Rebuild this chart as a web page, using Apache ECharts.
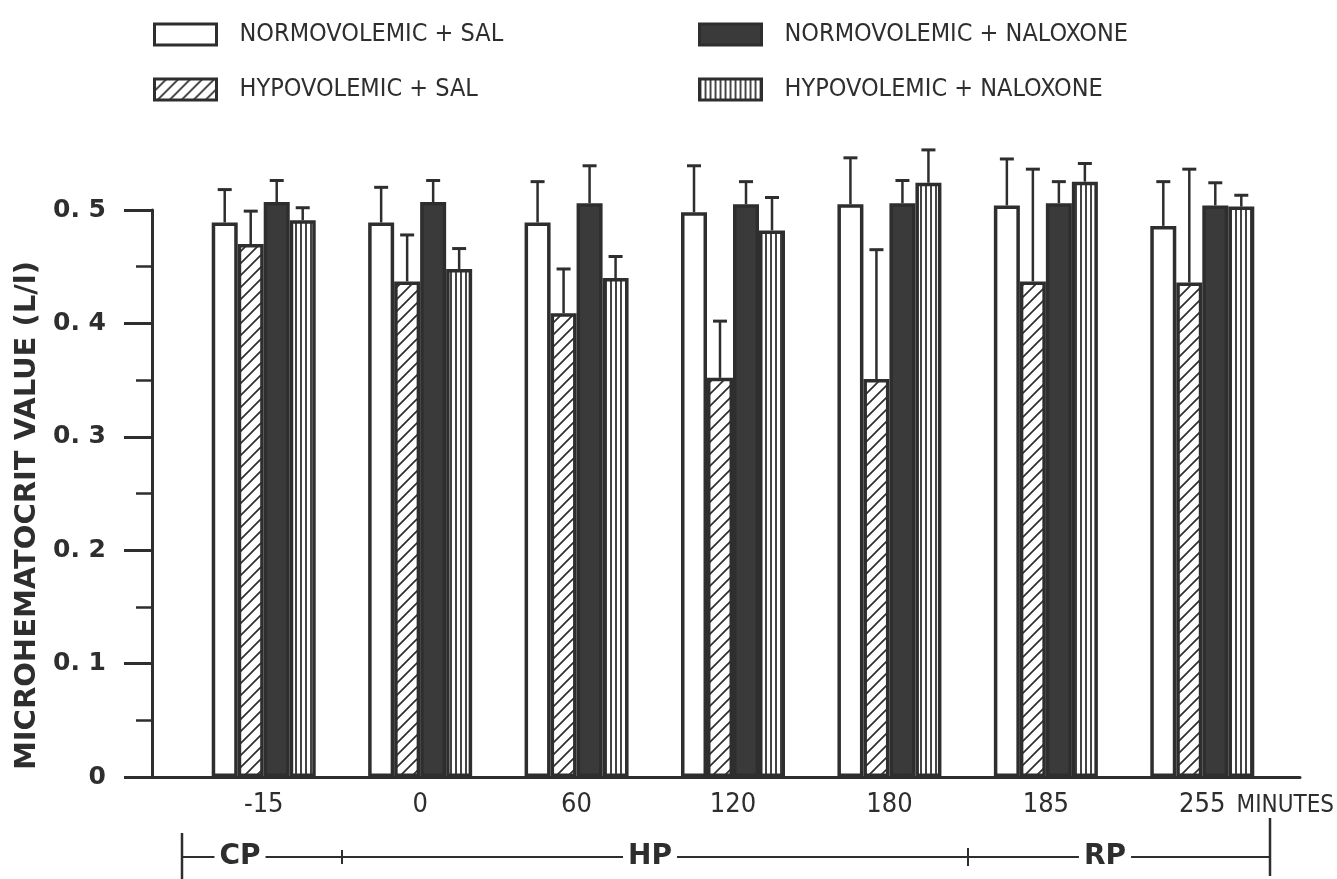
<!DOCTYPE html>
<html>
<head>
<meta charset="utf-8">
<title>Microhematocrit</title>
<script src="https://cdn.jsdelivr.net/npm/echarts@6/dist/echarts.min.js"></script>
<style>
  html, body { margin: 0; padding: 0; background: #fff; }
  #chart { width: 1337px; height: 879px; }
</style>
</head>
<body>
<div id="chart"></div>
<script>
// time points (minutes)
var categories = ['-15', '0', '60', '120', '180', '185', '255'];

// means
var normoSal      = [0.489, 0.489, 0.489, 0.498, 0.505, 0.504, 0.486];
var hypoSal       = [0.470, 0.437, 0.409, 0.352, 0.351, 0.437, 0.436];
var normoNaloxone = [0.507, 0.507, 0.506, 0.505, 0.506, 0.506, 0.504];
var hypoNaloxone  = [0.491, 0.448, 0.440, 0.482, 0.524, 0.525, 0.503];

// upper error (SD) for each bar
var normoSalErr      = [0.029, 0.031, 0.036, 0.041, 0.041, 0.041, 0.039];
var hypoSalErr       = [0.029, 0.041, 0.039, 0.050, 0.114, 0.099, 0.100];
var normoNaloxoneErr = [0.019, 0.019, 0.033, 0.020, 0.020, 0.019, 0.020];
var hypoNaloxoneErr  = [0.011, 0.018, 0.019, 0.029, 0.029, 0.016, 0.010];

var seriesNames = ['NORMOVOLEMIC + SAL', 'HYPOVOLEMIC + SAL', 'NORMOVOLEMIC + NALOXONE', 'HYPOVOLEMIC + NALOXONE'];

var INK = '#2e2e2e';
var BAR_W = 26;
var FONT = '"DejaVu Sans Condensed", "Liberation Sans Narrow", "DejaVu Sans", sans-serif';

// pattern tiles
function hatchTile() {
	var c = document.createElement('canvas');
	c.width = 12; c.height = 12;
	var g = c.getContext('2d');
	g.fillStyle = '#fff';
	g.fillRect(0, 0, 12, 12);
	g.strokeStyle = INK;
	g.lineWidth = 1.7;
	g.beginPath();
	g.moveTo(-1, 13); g.lineTo(13, -1);
	g.moveTo(-1, 1); g.lineTo(1, -1);
	g.moveTo(11, 13); g.lineTo(13, 11);
	g.stroke();
	return c;
}
function stripeTile() {
	var c = document.createElement('canvas');
	c.width = 5; c.height = 4;
	var g = c.getContext('2d');
	g.fillStyle = '#fff';
	g.fillRect(0, 0, 5, 4);
	g.fillStyle = '#444';
	g.fillRect(0, 0, 2, 4);
	return c;
}

var fills = [
	'#ffffff',
	{ image: hatchTile(), repeat: 'repeat' },
	'#3a3a3a',
	{ image: stripeTile(), repeat: 'repeat' }
];
var means = [normoSal, hypoSal, normoNaloxone, hypoNaloxone];
var errs = [normoSalErr, hypoSalErr, normoNaloxoneErr, hypoNaloxoneErr];

// whisker offset of each bar from the group centre
var offsets = [-1.5 * BAR_W, -0.5 * BAR_W, 0.5 * BAR_W, 1.5 * BAR_W];

function errRenderer(k) {
	return function(params, api) {
		var i = api.value(0), m = api.value(1), e = api.value(2);
		var base = api.coord([i, m]);
		var top = api.coord([i, m + e]);
		var cx = base[0] + offsets[k];
		return {
			type: 'group',
			children: [{
				type: 'line',
				shape: { x1: cx, y1: base[1], x2: cx, y2: top[1] },
				style: { stroke: INK, lineWidth: 2.5 }
			}, {
				type: 'line',
				shape: { x1: cx - 7, y1: top[1], x2: cx + 7, y2: top[1] },
				style: { stroke: INK, lineWidth: 3 }
			}]
		};
	};
}

var series = [];
for (var k = 0; k < 4; k++) {
	series.push({
		name: seriesNames[k],
		type: 'bar',
		xAxisIndex: 0,
		yAxisIndex: 0,
		data: means[k],
		barWidth: BAR_W,
		barGap: '0%',
		clip: false,
		itemStyle: { color: fills[k], borderColor: INK, borderWidth: 3.5 }
	});
}
for (var k = 0; k < 4; k++) {
	var errData = [];
	for (var i = 0; i < categories.length; i++) {
		errData.push([i, means[k][i], errs[k][i]]);
	}
	series.push({
		type: 'custom',
		xAxisIndex: 0,
		yAxisIndex: 0,
		clip: false,
		z: 3,
		renderItem: errRenderer(k),
		data: errData
	});
}

var legendBase = {
	orient: 'horizontal',
	padding: 0,
	icon: 'rect',
	itemWidth: 62,
	itemHeight: 21,
	selectedMode: false,
	itemStyle: { borderColor: INK, borderWidth: 3 },
	textStyle: { fontFamily: FONT, fontSize: 25, color: INK, padding: [0, 0, 0, 18] }
};
function legendAt(name, left, top) {
	return Object.assign({}, legendBase, { data: [name], left: left, top: top });
}

var option = {
	backgroundColor: '#fff',
	animation: false,
	legend: [
		legendAt(seriesNames[0], 153, 22),
		legendAt(seriesNames[1], 153, 77),
		legendAt(seriesNames[2], 698, 22),
		legendAt(seriesNames[3], 698, 77)
	],
	grid: [
		{ left: 185.5, right: 52.5, top: 210, bottom: 102 },
		{ left: 128, right: 37, top: 210, bottom: 102 }
	],
	xAxis: [{
		type: 'category',
		gridIndex: 0,
		data: categories,
		axisLine: { show: false },
		axisTick: { show: false },
		axisLabel: { fontFamily: FONT, fontSize: 27, color: INK, margin: 14 },
		name: 'MINUTES',
		nameLocation: 'end',
		nameGap: -44,
		nameTextStyle: { fontFamily: FONT, fontSize: 24, color: INK, align: 'left', verticalAlign: 'top', lineHeight: 58 }
	}, {
		type: 'value',
		gridIndex: 1,
		min: 0,
		max: 1,
		axisLine: { show: true, lineStyle: { color: INK, width: 3 } },
		axisTick: { show: false },
		axisLabel: { show: false },
		splitLine: { show: false }
	}],
	yAxis: [{
		type: 'value',
		gridIndex: 0,
		min: 0,
		max: 0.5,
		interval: 0.1,
		offset: 33.5,
		axisLine: { show: true, lineStyle: { color: INK, width: 3 } },
		axisTick: { show: true, length: 28, lineStyle: { color: INK, width: 3 } },
		minorTick: { show: true, splitNumber: 2, length: 16, lineStyle: { color: INK, width: 2.5 } },
		splitLine: { show: false },
		axisLabel: {
			fontFamily: '"DejaVu Sans", sans-serif',
			fontWeight: 'bold',
			fontSize: 25,
			color: INK,
			margin: 46,
			formatter: function(v) { return v === 0 ? '0' : '0. ' + Math.round(v * 10); }
		},
		name: 'MICROHEMATOCRIT VALUE (L/l)',
		nameLocation: 'middle',
		nameRotate: 90,
		nameGap: 106,
		nameTextStyle: { fontFamily: '"DejaVu Sans", sans-serif', fontWeight: 'bold', fontSize: 29, color: INK, padding: [0, 44, 0, 0] }
	}, {
		type: 'value',
		gridIndex: 1,
		show: false
	}],
	graphic: [
		// CP / HP / RP period bracket under the axis
		{ type: 'line', shape: { x1: 182, y1: 833, x2: 182, y2: 879 }, style: { stroke: INK, lineWidth: 2.5 } },
		{ type: 'line', shape: { x1: 1270, y1: 818, x2: 1270, y2: 876 }, style: { stroke: INK, lineWidth: 2.5 } },
		{ type: 'line', shape: { x1: 182, y1: 857, x2: 1270, y2: 857 }, style: { stroke: INK, lineWidth: 2 } },
		{ type: 'line', shape: { x1: 342, y1: 850, x2: 342, y2: 864 }, style: { stroke: INK, lineWidth: 2 } },
		{ type: 'line', shape: { x1: 968, y1: 848, x2: 968, y2: 866 }, style: { stroke: INK, lineWidth: 2 } },
		{ type: 'text', x: 240, y: 857, z: 10, style: { text: 'CP', font: 'bold 28px "DejaVu Sans", sans-serif', fill: INK, align: 'center', verticalAlign: 'middle', backgroundColor: '#fff', padding: [0, 5] } },
		{ type: 'text', x: 650, y: 857, z: 10, style: { text: 'HP', font: 'bold 28px "DejaVu Sans", sans-serif', fill: INK, align: 'center', verticalAlign: 'middle', backgroundColor: '#fff', padding: [0, 5] } },
		{ type: 'text', x: 1105, y: 857, z: 10, style: { text: 'RP', font: 'bold 28px "DejaVu Sans", sans-serif', fill: INK, align: 'center', verticalAlign: 'middle', backgroundColor: '#fff', padding: [0, 5] } }
	],
	series: series
};

var myChart = echarts.init(document.getElementById('chart'));
myChart.setOption(option);
</script>
</body>
</html>
